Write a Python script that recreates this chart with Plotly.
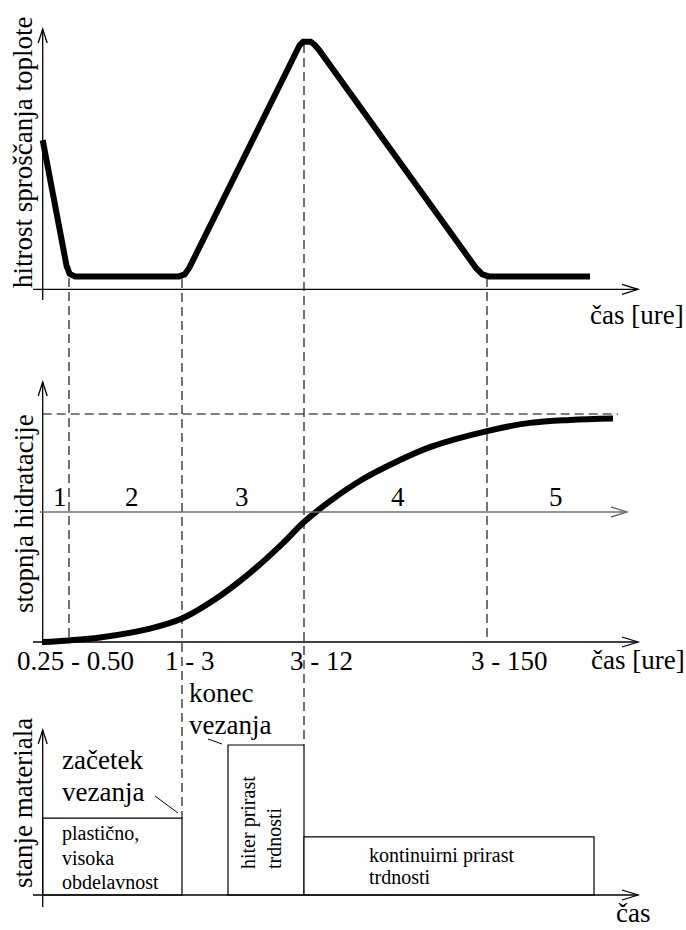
import plotly.graph_objects as go

W, H = 686, 930
FONT = "Liberation Serif, Times New Roman, serif"

# ---------------- data (schematic values) ----------------
# top panel: rate of heat release vs. time (schematic time units)
rate_time = [0.0, 2.39, 2.70, 3.23, 13.63, 14.19, 14.65, 25.39, 25.70, 26.04, 26.41,
             26.79, 27.20, 27.63, 43.33, 43.96, 44.63, 54.73]
rate_value = [0.601, 0.094, 0.062, 0.052, 0.052, 0.060, 0.086, 0.964, 0.984, 0.997, 1.0,
              0.997, 0.984, 0.964, 0.086, 0.060, 0.052, 0.052]

# middle panel: degree of hydration vs. time
hyd_time = [0.0, 2.63, 5.73, 10.73, 13.93, 17.43, 20.73, 24.03, 26.13, 28.73,
            32.03, 35.43, 38.73, 44.43, 48.73, 52.73, 57.03]
hyd_value = [0.0, 0.007, 0.020, 0.059, 0.103, 0.193, 0.303, 0.434, 0.526, 0.618,
             0.715, 0.792, 0.855, 0.925, 0.961, 0.974, 0.980]

# phase boundaries (vertical dashed lines)
phase_bounds = [2.63, 13.93, 26.13, 44.43]
phase_names = ["1", "2", "3", "4", "5"]
phase_label_time = [1.73, 8.93, 19.93, 35.53, 51.33]
phase_label_level = 0.636

period_labels = ["0.25 - 0.50", "1 - 3", "3 - 12", "3 - 150"]
period_label_time = [3.23, 14.73, 27.83, 46.63]

# bottom panel: state of the material
state_left = [0.0, 18.53, 26.13]
state_right = [13.93, 26.13, 55.13]
state_height = [0.513, 1.0, 0.387]

# ---------------- helpers ----------------
X0, X1 = -4.27, 64.33


def ppx(p):
    return p / W


def ppy(p):
    return 1 - p / H


def yaxis(top_px, bot_px, zero_px, unit_px):
    return dict(domain=[ppy(bot_px), ppy(top_px)],
                range=[(zero_px - bot_px) / unit_px, (zero_px - top_px) / unit_px],
                visible=False, fixedrange=True, anchor="x")


fig = go.Figure()

fig.add_trace(go.Scatter(x=rate_time, y=rate_value, mode="lines",
                         line=dict(color="black", width=6),
                         xaxis="x", yaxis="y", showlegend=False, hoverinfo="skip"))
fig.add_trace(go.Scatter(x=hyd_time, y=hyd_value, mode="lines",
                         line=dict(color="black", width=6, shape="spline", smoothing=1.0),
                         xaxis="x", yaxis="y2", showlegend=False, hoverinfo="skip"))
fig.add_trace(go.Bar(x=[(l + r) / 2 for l, r in zip(state_left, state_right)],
                     y=state_height, width=[r - l for l, r in zip(state_left, state_right)],
                     base=0, marker=dict(color="white", line=dict(color="black", width=1.2)),
                     xaxis="x", yaxis="y3", showlegend=False, hoverinfo="skip"))

shapes = []


def pline(x0, y0, x1, y1, color="black", width=1.3, dash="solid", layer="above"):
    shapes.append(dict(type="line", xref="paper", yref="paper",
                       x0=ppx(x0), y0=ppy(y0), x1=ppx(x1), y1=ppy(y1),
                       line=dict(color=color, width=width, dash=dash), layer=layer))


def arrow_up(x, y, color="black", width=1.3):
    path = "M {},{} L {},{} L {},{}".format(ppx(x - 4.5), ppy(y + 14), ppx(x), ppy(y),
                                            ppx(x + 4.5), ppy(y + 14))
    shapes.append(dict(type="path", xref="paper", yref="paper", path=path,
                       line=dict(color=color, width=width)))


def arrow_right(x, y, color="black", width=1.3):
    path = "M {},{} L {},{} L {},{}".format(ppx(x - 16), ppy(y - 5), ppx(x), ppy(y),
                                            ppx(x - 16), ppy(y + 5))
    shapes.append(dict(type="path", xref="paper", yref="paper", path=path,
                       line=dict(color=color, width=width)))


AX = 42.7
# top panel axes
pline(AX, 300, AX, 29); arrow_up(AX, 29)
pline(33, 289.3, 638, 289.3); arrow_right(638, 289.3)
# middle panel axes
pline(AX, 645, AX, 382); arrow_up(AX, 382)
pline(33, 642, 638, 642); arrow_right(638, 642)
pline(AX, 414, 618, 414, width=1.1, dash="9px,5px", layer="below")
pline(40, 512, 627, 512, color="#707070", width=1.6)
arrow_right(627, 512, color="#707070", width=1.4)
# bottom panel axes
pline(AX, 907, AX, 730); arrow_up(AX, 730)
pline(33, 895, 638, 895); arrow_right(638, 895)

# vertical dashed phase lines
v_start = [278, 279, 44, 278]
v_end = [642, 818, 745, 642]
for xb, a, b in zip(phase_bounds, v_start, v_end):
    shapes.append(dict(type="line", xref="x", yref="paper", x0=xb, x1=xb,
                       y0=ppy(a), y1=ppy(b),
                       line=dict(color="black", width=1.1, dash="9px,5px"), layer="below"))

# pointer strokes
pline(155, 796, 178, 813, width=1)
pline(208, 739, 222, 744, width=1)

ann = []


def text(x, y, s, size=27, xanchor="center", angle=0, align="center"):
    ann.append(dict(xref="paper", yref="paper", x=ppx(x), y=ppy(y), text=s,
                    showarrow=False, xanchor=xanchor, yanchor="middle",
                    textangle=angle, align=align,
                    font=dict(family=FONT, size=size, color="black")))


# axis titles
text(23, 153, "hitrost sproščanja toplote", angle=-90)
text(24, 514, "stopnja hidratacije", angle=-90)
text(23, 803, "stanje materiala", angle=-90)
text(637, 315, "čas [ure]")
text(638, 660, "čas [ure]")
text(633, 913, "čas")

# phase numbers
for t, s in zip(phase_label_time, phase_names):
    ann.append(dict(xref="x", yref="y2", x=t, y=phase_label_level, text=s,
                    showarrow=False, xanchor="center", yanchor="middle",
                    font=dict(family=FONT, size=27, color="black")))

# period labels under the hydration axis
for t, s in zip(period_label_time, period_labels):
    ann.append(dict(xref="x", yref="paper", x=t, y=ppy(661), text=s,
                    showarrow=False, xanchor="center", yanchor="middle",
                    font=dict(family=FONT, size=27, color="black")))

# bottom panel texts
text(60, 760, "začetek", xanchor="left")
text(60, 792, "vezanja", xanchor="left")
text(187, 693, "konec", xanchor="left")
text(187, 725, "vezanja", xanchor="left")
text(60, 833, "plastično,", size=20, xanchor="left")
text(60, 858, "visoka", size=20, xanchor="left")
text(60, 882, "obdelavnost", size=20, xanchor="left")
text(261, 823, "hiter prirast<br>trdnosti", size=20, angle=-90, align="left")
text(367, 855, "kontinuirni prirast", size=20, xanchor="left")
text(367, 877, "trdnosti", size=20, xanchor="left")

fig.update_layout(
    width=W, height=H,
    margin=dict(l=0, r=0, t=0, b=0),
    paper_bgcolor="white", plot_bgcolor="white",
    font=dict(family=FONT, color="black"),
    xaxis=dict(domain=[0, 1], range=[X0, X1], visible=False, fixedrange=True, anchor="y"),
    yaxis=yaxis(0, 310, 289.3, 248.3),
    yaxis2=yaxis(360, 680, 642, 228),
    yaxis3=yaxis(700, 930, 895, 150),
    barmode="overlay",
    shapes=shapes,
    annotations=ann,
    showlegend=False,
)

fig.write_html("out.html", config={"displayModeBar": False},
               post_script="document.body.style.margin='0px';document.body.style.overflow='hidden';")
